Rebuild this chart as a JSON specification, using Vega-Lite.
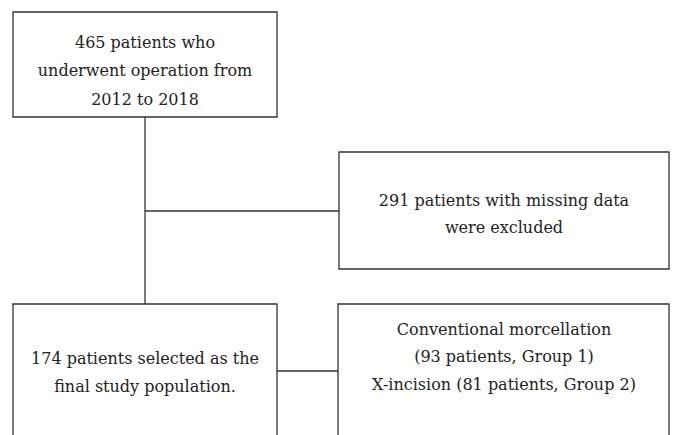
{
  "$schema": "https://vega.github.io/schema/vega-lite/v6.json",
  "width": 673,
  "height": 435,
  "autosize": {"type": "fit", "contains": "padding"},
  "padding": 0,
  "background": "white",
  "view": {"stroke": null},
  "datasets": {
    "boxes": [
      {"id": "start", "x": 13, "x2": 277, "y": 12, "y2": 117},
      {"id": "excluded", "x": 339, "x2": 669, "y": 152, "y2": 269},
      {"id": "final", "x": 13, "x2": 277, "y": 304, "y2": 445},
      {"id": "groups", "x": 338, "x2": 669, "y": 304, "y2": 445}
    ],
    "links": [
      {"x": 145, "x2": 145, "y": 117, "y2": 304},
      {"x": 145, "x2": 339, "y": 211, "y2": 211},
      {"x": 277, "x2": 338, "y": 371, "y2": 371}
    ],
    "labels": [
      {"x": 145, "y": 48, "text": "465 patients who"},
      {"x": 145, "y": 76, "text": "underwent operation from"},
      {"x": 145, "y": 105, "text": "2012 to 2018"},
      {"x": 504, "y": 206, "text": "291 patients with missing data"},
      {"x": 504, "y": 233, "text": "were excluded"},
      {"x": 145, "y": 364, "text": "174 patients selected as the"},
      {"x": 145, "y": 392, "text": "final study population."},
      {"x": 504, "y": 335, "text": "Conventional morcellation"},
      {"x": 504, "y": 362, "text": "(93 patients, Group 1)"},
      {"x": 504, "y": 390, "text": "X-incision (81 patients, Group 2)"}
    ]
  },
  "layer": [
    {
      "data": {"name": "boxes"},
      "mark": {"type": "rect", "fill": "white", "stroke": "#333333", "strokeWidth": 1.3, "clip": true},
      "encoding": {
        "x": {"field": "x", "type": "quantitative", "scale": {"domain": [0, 673], "nice": false, "zero": false}, "axis": null},
        "x2": {"field": "x2"},
        "y": {"field": "y", "type": "quantitative", "scale": {"domain": [435, 0], "nice": false, "zero": false}, "axis": null},
        "y2": {"field": "y2"}
      }
    },
    {
      "data": {"name": "links"},
      "mark": {"type": "rule", "stroke": "#333333", "strokeWidth": 1.3},
      "encoding": {
        "x": {"field": "x", "type": "quantitative"},
        "x2": {"field": "x2"},
        "y": {"field": "y", "type": "quantitative"},
        "y2": {"field": "y2"}
      }
    },
    {
      "data": {"name": "labels"},
      "mark": {"type": "text", "font": "DejaVu Serif", "fontSize": 16, "color": "#222222", "align": "center", "baseline": "alphabetic"},
      "encoding": {
        "x": {"field": "x", "type": "quantitative"},
        "y": {"field": "y", "type": "quantitative"},
        "text": {"field": "text", "type": "nominal"}
      }
    }
  ]
}
